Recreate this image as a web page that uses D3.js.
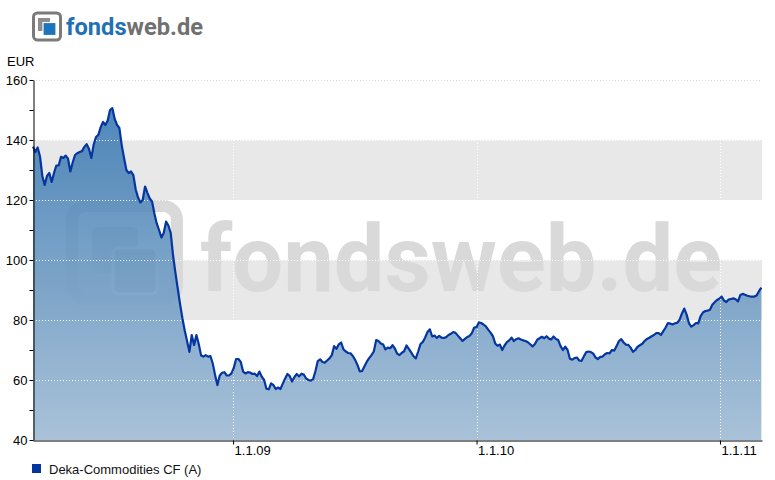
<!DOCTYPE html>
<html><head><meta charset="utf-8">
<script src="https://cdn.jsdelivr.net/npm/d3@7"></script>
<style>html,body{margin:0;padding:0;background:#fff;}svg{display:block;}</style>
</head><body>
<script>
// ---- data ----
const seriesName = "Deka-Commodities CF (A)";
const startDate = "2008-03-07";           // first observation
const stepHours = 84;                      // half-week sampling
const domainStart = "2008-03-07", domainEnd = "2011-03-05";
const values = [
137.8,136,137.5,134.5,128,125,128,129,126,129,
131.5,131.5,134.4,134,134.8,133.8,129.5,132.5,135,135.6,
136,136.3,137.7,138.6,137,134,138.5,141,141.7,144.3,
146,145,146.5,150,150.6,147,145,144,138.3,134,
130,129,129.5,128.3,123.5,120.8,119.2,120,124.5,122.4,
120.5,119.5,115.5,112.2,110,107.5,109,112.8,111.5,109,
101.5,95.8,90.5,85.3,80.6,76.5,73,69.4,75,71.7,
75,72,68.2,67.8,68.3,67.8,68,65.5,61.7,58.3,
61.5,62.4,62.6,61.5,61.5,62.2,64,67,67,66,
62.8,62.2,62.6,62.5,62,62.1,61.3,62.8,61.1,60,
57.1,56.9,58.9,58.3,57,57.5,57,58.8,60.5,62,
61.3,59.5,61,62,61.2,62.1,61.8,60.5,60,59.8,
60.3,63,66.3,66.9,66,65.8,66.5,67.2,68.3,71.3,
70.4,71.9,72.5,70.2,69.5,69,68.9,68,66.7,65,
62.9,63,64.6,66.1,67.3,68.3,69.5,73.3,73,72.2,
71.8,70.2,70.8,70.6,71.6,70.5,68.8,68.3,69.1,69.6,
71.5,70.4,69.2,67.9,67.2,69.5,72,72.7,74.2,76,
76.9,74.5,74.8,74,74.7,74.1,74,74.3,75,75.4,
76,75.7,74.8,73.9,73,73.7,74.3,74.7,75.6,77.5,
77.6,79.2,79,78.5,77.9,76.8,75.8,74.6,72.2,71.4,
71.8,70,71.5,72.6,73.2,74.1,73,73.6,73.9,73.5,
73.2,73,72.6,71.9,71.2,72,73.4,73.9,74.4,73.9,
74.6,73.8,73.5,74.5,73.7,73.3,71.3,70,71.1,70,
67.1,66.8,67.3,67.5,66.5,66.4,67.9,69.3,69.5,69.3,
68.8,67.5,67,67.7,67.8,68.6,69,68.9,70,69.8,
71.3,73,73.6,72.5,71.8,71.7,70.8,69.4,70,71.1,
71.6,72.1,73,73.7,74.1,74.6,75,75.6,75.6,75,
76.3,77.5,79,78.8,78.5,78.9,79.1,80.1,82.2,83.8,
81.8,78.9,77.8,78.3,79,78.9,81.3,82.5,83,83.1,
83.4,85.1,85.9,86.7,87.1,87.8,86.5,86,86.8,87,
87.2,86.9,86.2,88.3,88.7,88.4,88.1,87.9,87.8,87.8,
88.2,89.6,90.8];
const yTicks = [40,50,60,70,80,90,100,110,120,130,140,150,160];
const yLabels = [40,60,80,100,120,140,160];
const bands = [[120,140],[80,100]];
const xTickDates = ["2009-01-01","2010-01-01","2011-01-01"];
const xTickLabels = ["1.1.09","1.1.10","1.1.11"];
const unitLabel = "EUR";

// ---- setup ----
const W = 775, H = 480;
const M = {left:33, right:762, top:80, bottom:440};
const parse = d3.utcParse("%Y-%m-%d");
const t0 = parse(startDate);
const data = values.map((v,i)=>({date:d3.utcHour.offset(t0, i*stepHours), value:v}));

const svg = d3.select("body").append("svg").attr("width",W).attr("height",H)
  .style("font-family","'Liberation Sans', Arial, sans-serif");
svg.append("rect").attr("width",W).attr("height",H).attr("fill","#fff");

const x = d3.scaleUtc().domain([parse(domainStart), parse(domainEnd)]).range([M.left, M.right]);
const y = d3.scaleLinear().domain([40,160]).range([M.bottom, M.top]);

// gradient
const defs = svg.append("defs");
const grad = defs.append("linearGradient").attr("id","ag")
  .attr("gradientUnits","userSpaceOnUse").attr("x1",0).attr("x2",0)
  .attr("y1",y(160)).attr("y2",y(40));
grad.append("stop").attr("offset","0%").attr("stop-color","#2f72ae");
grad.append("stop").attr("offset","100%").attr("stop-color","#9db9d3");

// bands
svg.append("g").selectAll("rect").data(bands).join("rect")
  .attr("x",M.left).attr("width",M.right-M.left)
  .attr("y",d=>y(d[1])).attr("height",d=>y(d[0])-y(d[1]))
  .attr("fill","#e8e8e8");

// watermark
const wm = svg.append("g").attr("fill","#d9d9d9");
wm.append("rect").attr("x",72).attr("y",206).attr("width",105).attr("height",93).attr("rx",14)
  .attr("fill","none").attr("stroke","#d9d9d9").attr("stroke-width",12);
wm.append("rect").attr("x",92).attr("y",227).attr("width",46).attr("height",46).attr("rx",6);
wm.append("rect").attr("x",113).attr("y",248).attr("width",44).attr("height",46).attr("rx",6)
  .attr("fill","#cfcfcf").attr("stroke","#fff").attr("stroke-width",3);
wm.append("text").attr("x",200).attr("y",291).attr("font-family","Roboto, 'DejaVu Sans', sans-serif")
  .attr("font-weight","bold").attr("font-size",92).attr("textLength",522)
  .attr("lengthAdjust","spacingAndGlyphs").text("fondsweb.de");

// area + line
const area = d3.area().x(d=>x(d.date)).y0(y(40)).y1(d=>y(d.value));
const line = d3.line().x(d=>x(d.date)).y(d=>y(d.value));
svg.append("path").datum(data).attr("d",area).attr("fill","url(#ag)").attr("fill-opacity",0.88);

// grid lines
const grid = svg.append("g").attr("stroke","#fff").attr("stroke-dasharray","1,2").attr("stroke-width",1);
grid.selectAll("line.h").data(yLabels.filter(v=>v>40 && v<160)).join("line")
  .attr("x1",M.left).attr("x2",M.right).attr("y1",d=>Math.round(y(d))+0.5).attr("y2",d=>Math.round(y(d))+0.5);
grid.selectAll("line.v").data(xTickDates).join("line")
  .attr("y1",M.top).attr("y2",M.bottom)
  .attr("x1",d=>Math.round(x(parse(d)))+0.5).attr("x2",d=>Math.round(x(parse(d)))+0.5);
svg.append("line").attr("x1",M.left).attr("x2",M.right).attr("y1",y(160)+0.5).attr("y2",y(160)+0.5)
  .attr("stroke","#d8d8d8").attr("stroke-dasharray","1,2");

svg.append("path").datum(data).attr("d",line).attr("fill","none")
  .attr("stroke","#0536a0").attr("stroke-width",2.2).attr("stroke-linejoin","round");

// axes
const yAxis = d3.axisLeft(y).tickValues(yTicks).tickSize(4).tickSizeOuter(0).tickPadding(2)
  .tickFormat(d=>yLabels.includes(d)?d:"");
const gy = svg.append("g").attr("transform",`translate(${M.left+0.5},0)`).call(yAxis);
gy.selectAll("text").attr("font-size",13).attr("fill","#000").attr("font-family","'Liberation Sans', Arial, sans-serif");
gy.select(".domain").attr("stroke","#000");

const fmt = new Map(xTickDates.map((d,i)=>[+parse(d), xTickLabels[i]]));
const xAxis = d3.axisBottom(x).tickValues(xTickDates.map(parse)).tickSize(4).tickSizeOuter(0).tickPadding(1)
  .tickFormat(d=>fmt.get(+d));
const gx = svg.append("g").attr("transform",`translate(0,${M.bottom+0.5})`).call(xAxis);
gx.selectAll("text").attr("font-size",13).attr("fill","#000").attr("text-anchor","start").attr("dx",1)
  .attr("font-family","'Liberation Sans', Arial, sans-serif");
gx.select(".domain").attr("stroke","#000");

svg.append("text").attr("x",7).attr("y",65.5).attr("font-size",13).text(unitLabel);

// legend
svg.append("rect").attr("x",32).attr("y",464).attr("width",9).attr("height",9).attr("fill","#0536a0");
svg.append("text").attr("x",49).attr("y",474).attr("font-size",13).attr("fill","#111").text(seriesName);

// logo
const lg = svg.append("g");
lg.append("rect").attr("x",33.5).attr("y",13).attr("width",27).attr("height",27).attr("rx",4)
  .attr("fill","none").attr("stroke","#7b7b7b").attr("stroke-width",3);
lg.append("rect").attr("x",38).attr("y",18).attr("width",12).attr("height",13).attr("fill","#8c8c8c");
lg.append("rect").attr("x",43).attr("y",22.5).attr("width",13).attr("height",13).attr("fill","#1c74bf")
  .attr("stroke","#fff").attr("stroke-width",1.2);
const lt = lg.append("text").attr("x",66).attr("y",35).attr("font-family","Roboto, 'DejaVu Sans', sans-serif")
  .attr("font-weight","bold").attr("font-size",24).attr("textLength",137).attr("lengthAdjust","spacingAndGlyphs");
lt.append("tspan").attr("fill","#1f70b5").text("fonds");
lt.append("tspan").attr("fill","#707070").text("web.de");
</script>
</body></html>
